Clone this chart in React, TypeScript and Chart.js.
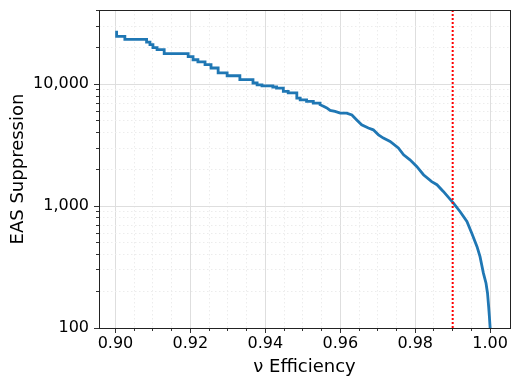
import { useEffect, useRef } from "react";
import { Chart, registerables } from "chart.js";

Chart.register(...registerables);

// ν efficiency (x) and EAS suppression (y)
const efficiency = [
  0.9003, 0.9003, 0.9025, 0.9025, 0.9083, 0.9083, 0.9092, 0.9092, 0.91, 0.91,
  0.9111, 0.9111, 0.913, 0.913, 0.9194, 0.9194, 0.9207, 0.9207, 0.922, 0.922,
  0.9239, 0.9239, 0.9255, 0.9255, 0.9274, 0.9274, 0.9298, 0.9298, 0.9332, 0.9332,
  0.9367, 0.9367, 0.9378, 0.9378, 0.9391, 0.9391, 0.942, 0.942, 0.943, 0.943,
  0.9448, 0.9448, 0.9461, 0.9461, 0.9484, 0.9484, 0.9493, 0.9493, 0.951, 0.951,
  0.9528, 0.9528, 0.9546, 0.9546, 0.9555, 0.9564, 0.9573, 0.9586, 0.96, 0.9617,
  0.9631, 0.9644, 0.9657, 0.9675, 0.9688, 0.9702, 0.9715, 0.9733, 0.9755, 0.9769,
  0.9786, 0.9804, 0.9822, 0.9844, 0.9858, 0.9875, 0.9902, 0.992, 0.9938, 0.9951,
  0.9965, 0.9973, 0.9982, 0.9989, 0.9993, 0.9996, 0.9998, 1.0,
];
const suppression = [
  27500, 24750, 24750, 23400, 23400, 22200, 22200, 21150, 21150, 20000,
  20000, 19250, 19250, 17850, 17850, 16850, 16850, 15900, 15900, 15300,
  15300, 14500, 14500, 13600, 13600, 12400, 12400, 11750, 11750, 10900,
  10900, 10250, 10250, 9900, 9900, 9700, 9700, 9500, 9500, 9300,
  9300, 8750, 8750, 8500, 8500, 7700, 7700, 7450, 7450, 7250,
  7250, 7000, 7000, 6800, 6600, 6400, 6100, 6000, 5800, 5800,
  5600, 5100, 4650, 4380, 4230, 3850, 3620, 3400, 3000, 2640,
  2400, 2120, 1810, 1590, 1500, 1320, 1060, 900, 750, 600,
  465, 385, 282, 233, 193, 150, 124, 100,
];

const threshold = 0.99;

const xTickValues = [0.9, 0.92, 0.94, 0.96, 0.98, 1.0];
const xMinorTickValues = [
  0.905, 0.91, 0.915, 0.925, 0.93, 0.935, 0.945, 0.95, 0.955, 0.965, 0.97, 0.975,
  0.985, 0.99, 0.995,
];
const yTickValues = [100, 1000, 10000];
const yMinorTickValues = [
  200, 300, 400, 500, 600, 700, 800, 900, 2000, 3000, 4000, 5000, 6000, 7000, 8000,
  9000, 20000, 30000, 40000,
];

const xMin = 0.8956;
const xMax = 1.0053;
const yMin = 100;
const yMax = 40700;

const FONT = "'DejaVu Sans', sans-serif";

const noPad = (s: any) => {
  s.paddingTop = 0;
  s.paddingBottom = 0;
  s.paddingLeft = 0;
  s.paddingRight = 0;
};

const framePlugin = {
  id: "frame",
  afterDraw(chart: any) {
    const { ctx, chartArea: a } = chart;
    ctx.save();
    ctx.strokeStyle = "#222";
    ctx.lineWidth = 1;
    ctx.strokeRect(
      Math.floor(a.left) + 0.5,
      Math.floor(a.top) + 0.5,
      Math.round(a.right - a.left),
      Math.round(a.bottom - a.top)
    );
    ctx.restore();
  },
};

export default function App() {
  const ref = useRef<HTMLCanvasElement | null>(null);

  useEffect(() => {
    if (!ref.current) return;
    const chart = new Chart(ref.current, {
      type: "line",
      data: {
        datasets: [
          {
            data: [
              { x: threshold, y: yMin },
              { x: threshold, y: yMax },
            ],
            borderColor: "#ff0000",
            borderWidth: 2,
            borderDash: [2, 2],
            pointRadius: 0,
            xAxisID: "x",
            yAxisID: "y",
          },
          {
            data: efficiency.map((e, i) => ({ x: e, y: suppression[i] })),
            borderColor: "#1f77b4",
            borderWidth: 2.8,
            pointRadius: 0,
            tension: 0,
            xAxisID: "x",
            yAxisID: "y",
          },
        ],
      },
      options: {
        animation: false,
        responsive: false,
        devicePixelRatio: 1,
        layout: { padding: { top: 10, right: 1, left: 0, bottom: 0 } },
        plugins: { legend: { display: false }, tooltip: { enabled: false } },
        scales: {
          x: {
            type: "linear",
            position: "bottom",
            weight: 1,
            min: xMin,
            max: xMax,
            afterBuildTicks: (s: any) => {
              s.ticks = xTickValues.map((v) => ({ value: v }));
            },
            afterFit: (s: any) => {
              s.height = 48;
              noPad(s);
            },
            ticks: {
              autoSkip: false,
              maxRotation: 0,
              padding: 1,
              color: "#000",
              font: { family: FONT, size: 16 },
              callback: (v: any) => Number(v).toFixed(2),
            },
            grid: {
              color: "#dedede",
              lineWidth: 1,
              tickLength: 5,
              tickColor: "#333",
              tickWidth: 1,
            },
            border: { display: false },
            title: {
              display: true,
              text: "ν Efficiency",
              color: "#000",
              font: { family: FONT, size: 18 },
              padding: { top: 0, bottom: -2 },
            },
          },
          xMinor: {
            type: "linear",
            position: "bottom",
            weight: 0,
            min: xMin,
            max: xMax,
            afterBuildTicks: (s: any) => {
              s.ticks = xMinorTickValues.map((v) => ({ value: v }));
            },
            afterFit: (s: any) => {
              s.height = 0;
              noPad(s);
            },
            ticks: { display: false },
            grid: {
              color: "#ececec",
              lineWidth: 1,
              tickLength: 3,
              tickColor: "#333",
              tickWidth: 1,
            },
            border: { display: false, dash: [1.5, 2.5] },
          },
          y: {
            type: "logarithmic",
            position: "left",
            weight: 1,
            min: yMin,
            max: yMax,
            afterBuildTicks: (s: any) => {
              s.ticks = yTickValues.map((v) => ({ value: v, major: true }));
            },
            afterFit: (s: any) => {
              s.width = 99;
              noPad(s);
            },
            ticks: {
              autoSkip: false,
              padding: 5,
              color: "#000",
              font: { family: FONT, size: 16 },
              callback: (v: any) => Number(v).toLocaleString("en-US"),
            },
            grid: {
              color: "#dedede",
              lineWidth: 1,
              tickLength: 5,
              tickColor: "#333",
              tickWidth: 1,
            },
            border: { display: false },
            title: {
              display: true,
              text: "EAS Suppression",
              color: "#000",
              font: { family: FONT, size: 18 },
              padding: { top: 8, bottom: 0 },
            },
          },
          yMinor: {
            type: "logarithmic",
            position: "left",
            weight: 0,
            min: yMin,
            max: yMax,
            afterBuildTicks: (s: any) => {
              s.ticks = yMinorTickValues.map((v) => ({ value: v }));
            },
            afterFit: (s: any) => {
              s.width = 0;
              noPad(s);
            },
            ticks: { display: false },
            grid: {
              color: "#ececec",
              lineWidth: 1,
              tickLength: 3,
              tickColor: "#333",
              tickWidth: 1,
            },
            border: { display: false, dash: [1.5, 2.5] },
          },
        },
      },
      plugins: [framePlugin],
    });
    return () => chart.destroy();
  }, []);

  return (
    <div style={{ position: "fixed", left: 0, top: 0, width: 511, height: 376, background: "#fff" }}>
      <canvas ref={ref} width={511} height={376} style={{ width: 511, height: 376, display: "block" }} />
    </div>
  );
}
